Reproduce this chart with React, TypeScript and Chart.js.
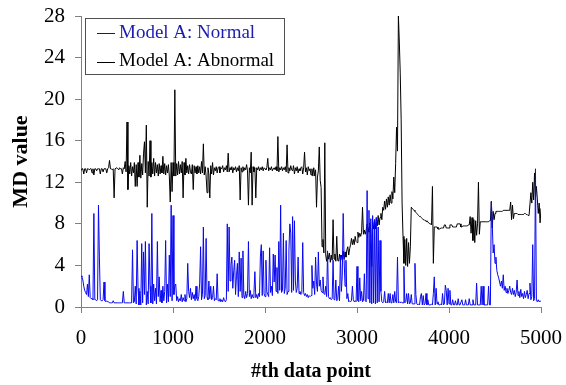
import React, { useEffect, useRef } from "react";
import { Chart, registerables } from "chart.js";

Chart.register(...registerables);

// ---- data (one value every SAMPLE_STEP data points) ----
const SAMPLE_STEP = 10;
const seriesLabels = ["Model A: Normal", "Model A: Abnormal"];
const xTickValues = [0, 1000, 2000, 3000, 4000, 5000];
const yTickValues = [0, 4, 8, 12, 16, 20, 24, 28];

const normalValues = [
  3.0, 2.9, 2.6, 2.0, 1.6, 1.4, 1.2, 2.2, 1.0, 3.1,
  0.9, 0.8, 0.8, 0.7, 9.0, 0.7, 0.7, 0.6, 0.7, 9.8,
  4.8, 0.7, 0.6, 0.6, 0.7, 2.4, 0.6, 0.5, 0.6, 0.5,
  0.5, 0.4, 0.4, 0.4, 0.4, 0.6, 0.4, 0.4, 0.4, 0.4,
  0.4, 0.4, 0.4, 0.4, 0.4, 0.4, 1.5, 0.4, 0.4, 0.4,
  0.4, 0.4, 0.4, 0.4, 0.4, 0.4, 5.5, 0.4, 0.5, 2.0,
  0.3, 6.4, 1.8, 0.2, 1.5, 0.2, 6.1, 0.4, 5.3, 1.2,
  6.3, 0.2, 1.5, 0.3, 6.1, 2.0, 0.4, 9.0, 0.3, 2.2,
  0.6, 1.8, 0.3, 6.3, 1.0, 2.9, 0.5, 1.6, 0.4, 2.0,
  0.6, 1.5, 6.4, 0.4, 2.2, 0.5, 5.0, 1.0, 9.8, 0.6,
  8.8, 1.2, 2.0, 2.2, 0.6, 1.0, 0.5, 0.8, 0.6, 1.2,
  0.5, 0.9, 0.6, 1.2, 0.5, 0.8, 4.2, 1.5, 0.9, 1.8,
  0.7, 1.4, 0.8, 1.2, 0.6, 2.0, 0.8, 0.6, 1.0, 2.3,
  5.8, 0.7, 1.2, 7.7, 0.8, 1.1, 6.6, 0.9, 0.7, 2.5,
  0.8, 2.0, 0.7, 0.9, 2.0, 0.6, 0.8, 0.7, 3.2, 0.6,
  0.6, 0.8, 0.5, 0.7, 0.5, 0.9, 0.6, 0.5, 0.7, 8.0,
  1.5, 7.7, 2.5, 4.0, 4.8, 1.8, 3.5, 4.5, 1.2, 3.0,
  4.2, 1.0, 5.3, 1.5, 4.7, 0.9, 5.4, 1.2, 0.8, 1.5,
  0.9, 1.3, 6.3, 1.0, 1.6, 0.8, 1.2, 0.9, 1.4, 3.4,
  0.9, 1.2, 0.8, 1.3, 1.0, 4.9, 6.0, 1.1, 5.4, 1.3,
  1.0, 4.5, 1.5, 1.2, 1.0, 5.7, 1.4, 2.0, 1.1, 5.1,
  2.4, 5.0, 1.5, 3.8, 1.3, 6.3, 1.6, 9.8, 1.4, 1.6,
  7.1, 1.3, 1.8, 6.4, 1.2, 1.5, 5.4, 8.0, 7.1, 1.4,
  8.7, 1.6, 8.3, 2.5, 1.4, 1.8, 4.8, 1.3, 1.5, 1.2,
  1.3, 6.2, 1.4, 1.1, 1.3, 1.0, 1.2, 0.9, 1.1, 1.0,
  1.1, 4.0, 1.8, 2.5, 1.2, 4.8, 2.2, 1.5, 5.3, 2.0,
  2.6, 1.6, 1.4, 2.9, 1.3, 1.2, 2.0, 1.0, 5.4, 1.0,
  0.8, 0.9, 0.7, 0.8, 4.5, 0.7, 0.8, 2.6, 0.6, 0.7,
  2.0, 0.6, 5.0, 1.5, 3.0, 9.0, 4.5, 2.0, 4.5, 0.8,
  1.3, 0.5, 0.6, 0.5, 0.6, 2.0, 0.7, 0.5, 0.6, 0.5,
  3.9, 0.6, 0.5, 2.8, 0.6, 1.5, 0.5, 0.6, 3.2, 0.6,
  0.5, 11.2, 0.8, 9.3, 0.4, 8.5, 0.3, 8.8, 0.4, 8.4,
  0.3, 8.6, 0.4, 7.7, 0.5, 6.4, 1.5, 0.5, 0.4, 0.5,
  1.5, 0.4, 0.5, 0.4, 1.3, 0.4, 1.3, 0.4, 0.5, 1.2,
  0.4, 1.5, 0.5, 0.4, 4.8, 0.4, 0.5, 0.4, 0.5, 0.4,
  0.4, 3.9, 0.4, 0.5, 1.3, 0.3, 1.3, 0.3, 0.4, 1.2,
  0.3, 0.3, 0.3, 4.2, 1.2, 0.3, 0.2, 0.3, 0.2, 1.0,
  1.3, 0.2, 1.1, 0.2, 0.3, 1.3, 0.2, 0.7, 0.2, 0.2,
  0.2, 0.3, 0.2, 1.3, 2.9, 0.2, 1.8, 0.3, 0.5, 0.2,
  0.2, 0.3, 0.2, 1.3, 0.2, 0.3, 2.1, 1.6, 0.2, 1.8,
  0.3, 1.6, 0.2, 0.2, 0.7, 0.2, 0.2, 0.6, 0.2, 0.2,
  0.8, 0.2, 0.2, 0.2, 0.7, 0.2, 0.2, 0.2, 0.7, 0.2,
  0.2, 0.2, 0.8, 0.2, 0.2, 0.2, 0.7, 0.2, 0.2, 0.2,
  2.3, 0.2, 0.2, 0.2, 0.2, 2.0, 0.2, 2.0, 0.2, 0.2,
  0.2, 0.2, 0.2, 2.0, 0.2, 0.2, 10.2, 8.1, 5.2, 6.0,
  4.2, 4.8, 3.5, 3.1, 2.8, 2.4, 2.0, 2.5, 1.8, 3.1,
  1.6, 2.0, 1.4, 1.8, 1.3, 1.6, 2.0, 1.4, 1.2, 1.8,
  1.2, 1.6, 1.0, 1.4, 2.6, 1.1, 1.5, 0.9, 1.7, 1.0,
  1.3, 0.8, 1.5, 0.9, 1.2, 1.6, 0.8, 1.3, 2.3, 0.7,
  1.0, 6.0, 0.6, 0.8, 13.3, 0.6, 0.5, 0.7, 0.5, 0.6,
  0.5,
];

const abnormalValues = [
  13.2, 13.3, 13.3, 12.8, 13.3, 13.3, 12.9, 13.3, 13.3, 13.2,
  13.3, 13.3, 12.9, 13.3, 12.7, 13.3, 13.3, 13.1, 13.3, 13.3,
  13.3, 12.8, 13.3, 13.3, 13.0, 13.3, 13.3, 13.3, 12.9, 13.3,
  13.4, 14.1, 13.3, 13.3, 13.2, 13.3, 10.5, 13.3, 13.3, 13.4,
  13.3, 13.2, 13.4, 13.3, 13.3, 12.8, 13.4, 13.3, 14.0, 13.0,
  17.8, 11.3, 13.6, 12.8, 13.9, 12.6, 13.5, 12.9, 13.9, 11.6,
  13.7, 11.6, 13.9, 12.5, 14.6, 12.4, 13.8, 12.7, 14.8, 15.9,
  12.9, 17.5, 9.6, 14.0, 12.6, 16.0, 12.5, 13.9, 12.8, 14.3,
  12.6, 13.9, 12.9, 13.7, 12.6, 13.8, 12.8, 13.6, 12.9, 14.5,
  12.8, 13.8, 12.7, 13.6, 12.9, 13.7, 12.6, 10.1, 13.9, 11.1,
  13.9, 12.6, 20.9, 12.6, 13.8, 12.7, 14.0, 12.8, 13.7, 12.9,
  14.0, 10.5, 13.9, 12.7, 14.3, 12.9, 13.6, 12.8, 13.7, 13.0,
  12.8, 13.7, 11.3, 13.6, 12.9, 13.5, 12.8, 13.6, 12.9, 13.5,
  12.8, 14.0, 12.9, 15.7, 12.7, 13.5, 12.6, 11.0, 13.4, 12.8,
  10.5, 13.6, 12.8, 13.9, 12.7, 13.4, 13.1, 13.5, 12.9, 13.4,
  13.5, 12.9, 13.4, 13.3, 13.6, 13.0, 13.4, 13.2, 13.6, 13.0,
  14.8, 13.0, 13.4, 13.2, 13.5, 12.9, 13.4, 13.2, 13.5, 13.0,
  13.4, 13.1, 13.6, 10.3, 13.4, 13.0, 13.5, 13.1, 13.4, 13.2,
  13.7, 13.1, 9.8, 13.4, 12.9, 14.9, 9.8, 13.5, 13.0, 13.4,
  10.5, 13.4, 13.2, 13.5, 13.1, 13.4, 13.2, 13.5, 13.1, 13.4,
  13.3, 13.2, 13.4, 14.3, 13.1, 13.4, 13.2, 13.5, 13.1, 13.3,
  13.4, 13.2, 13.5, 13.1, 16.4, 13.0, 13.4, 13.2, 13.5, 13.1,
  13.4, 13.2, 13.5, 13.0, 15.6, 12.9, 13.4, 13.1, 13.6, 13.2,
  13.1, 13.6, 12.8, 13.4, 13.1, 13.5, 12.9, 13.3, 13.1, 13.4,
  13.5, 12.8, 13.4, 14.9, 13.0, 13.4, 12.7, 13.5, 13.1, 13.3,
  12.7, 13.3, 12.6, 13.4, 12.6, 13.2, 9.6, 12.5, 13.1, 15.4,
  12.2, 11.5, 5.8, 6.5, 5.2, 15.8, 5.0, 4.4, 5.2, 4.6,
  5.2, 4.3, 5.0, 4.5, 8.4, 4.6, 5.1, 4.4, 6.8, 4.5,
  4.4, 5.1, 4.4, 5.0, 4.5, 5.4, 4.6, 5.3, 4.8, 5.5,
  5.8, 5.0, 5.6, 6.0, 6.6, 6.0, 6.5, 6.0, 6.8, 6.3,
  6.2, 7.2, 6.7, 7.1, 6.8, 7.2, 9.6, 7.0, 7.4, 7.0,
  7.4, 8.0, 7.6, 7.2, 8.1, 7.4, 3.9, 8.2, 7.5, 8.4,
  7.5, 8.6, 7.8, 8.8, 7.9, 8.6, 9.0, 8.4, 9.6, 9.3,
  10.2, 9.4, 10.4, 9.6, 10.6, 9.8, 10.8, 10.0, 11.1, 10.4,
  12.5, 11.0, 13.8, 17.3, 15.0, 28.0, 25.5, 22.5, 18.0, 10.0,
  6.8, 4.2, 6.5, 4.0, 6.6, 3.9, 6.2, 4.2, 5.8, 9.6,
  9.5, 9.4, 9.3, 9.2, 9.1, 9.0, 8.9, 8.8, 8.7, 8.7,
  8.6, 8.5, 8.4, 8.4, 8.3, 8.3, 8.2, 8.2, 8.1, 8.0,
  8.0, 7.9, 11.6, 4.2, 7.7, 7.7, 7.7, 7.7, 7.5, 7.5,
  7.5, 7.6, 7.6, 7.6, 7.6, 7.9, 7.9, 7.6, 7.6, 7.6,
  7.6, 7.9, 7.9, 7.9, 7.7, 7.7, 7.7, 7.7, 7.7, 8.0,
  8.0, 8.0, 8.0, 7.7, 7.7, 7.8, 7.8, 7.8, 7.8, 7.8,
  7.8, 7.9, 7.9, 8.7, 7.1, 8.6, 6.4, 8.4, 6.2, 8.3,
  6.9, 8.0, 12.0, 7.0, 8.2, 8.2, 8.2, 8.2, 8.2, 8.2,
  8.2, 8.2, 8.2, 8.2, 8.3, 8.3, 10.1, 7.6, 9.2, 8.4,
  9.0, 9.2, 9.2, 9.2, 9.2, 9.2, 9.2, 9.2, 9.2, 9.3,
  9.3, 9.3, 9.3, 9.3, 9.3, 9.3, 9.3, 10.1, 8.4, 9.8,
  8.5, 9.0, 9.0, 9.0, 9.0, 8.9, 8.9, 8.9, 8.9, 8.9,
  8.9, 8.9, 9.0, 9.0, 8.9, 8.9, 8.8, 8.8, 8.8, 11.0,
  10.0, 12.0, 10.3, 12.9, 10.5, 11.6, 10.4, 9.0, 10.0, 8.1,
  9.5,
];

// data point index of each sampled value (the x categories)
const dataPointIndex = normalValues.map((_, i) => i * SAMPLE_STEP);

// ---- styles ----
const SERIF = '"Liberation Serif", "Times New Roman", Times, serif';
const NORMAL_COLOR = "#0808f0";
const ABNORMAL_COLOR = "#000000";
const LEGEND_TEXT_COLORS = ["#1c1cb0", "#000000"];
const AXIS_COLOR = "#808080";

const boxLegend = {
  id: "boxLegend",
  afterDraw(chart: any) {
    const { ctx, chartArea } = chart;
    const x0 = chartArea.left + 4;
    const y0 = chartArea.top + 2;
    const w = 199;
    const h = 56;
    ctx.save();
    ctx.fillStyle = "#ffffff";
    ctx.fillRect(x0, y0, w, h);
    ctx.strokeStyle = "#505050";
    ctx.lineWidth = 1;
    ctx.strokeRect(x0 + 0.5, y0 + 0.5, w, h);
    ctx.font = `19px ${SERIF}`;
    ctx.textBaseline = "middle";
    ctx.textAlign = "left";
    chart.data.datasets.forEach((ds: any, i: number) => {
      const cy = y0 + 15 + i * 28.5;
      ctx.strokeStyle = ds.borderColor;
      ctx.lineWidth = 1;
      ctx.beginPath();
      ctx.moveTo(x0 + 12, Math.round(cy) + 0.5);
      ctx.lineTo(x0 + 30, Math.round(cy) + 0.5);
      ctx.stroke();
      ctx.fillStyle = LEGEND_TEXT_COLORS[i];
      ctx.fillText(ds.label, x0 + 34, cy);
    });
    ctx.restore();
  },
};

export default function App() {
  const canvasRef = useRef<HTMLCanvasElement | null>(null);

  useEffect(() => {
    if (!canvasRef.current) return;
    const chart = new Chart(canvasRef.current, {
      type: "line",
      data: {
        datasets: [
          {
            label: seriesLabels[0],
            data: normalValues.map((v, i) => ({ x: dataPointIndex[i], y: v })),
            borderColor: NORMAL_COLOR,
            backgroundColor: NORMAL_COLOR,
            borderWidth: 1,
            pointRadius: 0,
            tension: 0,
            borderJoinStyle: "bevel",
            fill: false,
          },
          {
            label: seriesLabels[1],
            data: abnormalValues.map((v, i) => ({ x: dataPointIndex[i], y: v })),
            borderColor: ABNORMAL_COLOR,
            backgroundColor: ABNORMAL_COLOR,
            borderWidth: 1,
            pointRadius: 0,
            tension: 0,
            borderJoinStyle: "bevel",
            fill: false,
          },
        ],
      },
      options: {
        animation: false,
        responsive: true,
        maintainAspectRatio: false,
        events: [],
        layout: { padding: { top: 16, right: 25, bottom: 0, left: 0 } },
        plugins: {
          legend: { display: false },
          tooltip: { enabled: false },
        },
        scales: {
          x: {
            type: "linear",
            min: xTickValues[0],
            max: xTickValues[xTickValues.length - 1],
            afterBuildTicks: (scale: any) => {
              scale.ticks = xTickValues.map((v) => ({ value: v }));
            },
            ticks: {
              color: "#000",
              font: { family: SERIF, size: 21 },
              padding: 13,
              maxRotation: 0,
              autoSkip: false,
              callback: (v: any) => String(v),
            },
            grid: {
              display: true,
              drawOnChartArea: false,
              drawTicks: true,
              tickLength: 6,
              color: AXIS_COLOR,
            },
            border: { display: true, color: AXIS_COLOR, width: 1 },
            title: {
              display: true,
              text: "#th data point",
              color: "#000",
              font: { family: SERIF, size: 20, weight: "bold" },
              padding: { top: 0, bottom: 1 },
            },
            afterFit: (scale: any) => {
              scale.height = 78;
              scale.paddingLeft = 0;
              scale.paddingRight = 0;
            },
          },
          y: {
            type: "linear",
            min: yTickValues[0],
            max: yTickValues[yTickValues.length - 1],
            afterBuildTicks: (scale: any) => {
              scale.ticks = yTickValues.map((v) => ({ value: v }));
            },
            ticks: {
              color: "#000",
              font: { family: SERIF, size: 21 },
              padding: 10,
              autoSkip: false,
              callback: (v: any) => String(v),
            },
            grid: {
              display: true,
              drawOnChartArea: false,
              drawTicks: true,
              tickLength: 6,
              color: AXIS_COLOR,
            },
            border: { display: true, color: AXIS_COLOR, width: 1 },
            title: {
              display: true,
              text: "MD value",
              color: "#000",
              font: { family: SERIF, size: 22, weight: "bold" },
              padding: { top: 8, bottom: 0 },
            },
            afterFit: (scale: any) => {
              scale.width = 81;
              scale.paddingTop = 0;
              scale.paddingBottom = 0;
            },
          },
        },
      },
      plugins: [boxLegend],
    });
    return () => chart.destroy();
  }, []);

  return (
    <div
      style={{
        position: "fixed",
        left: 0,
        top: 0,
        width: 566,
        height: 385,
        background: "#ffffff",
      }}
    >
      <canvas ref={canvasRef} />
    </div>
  );
}
